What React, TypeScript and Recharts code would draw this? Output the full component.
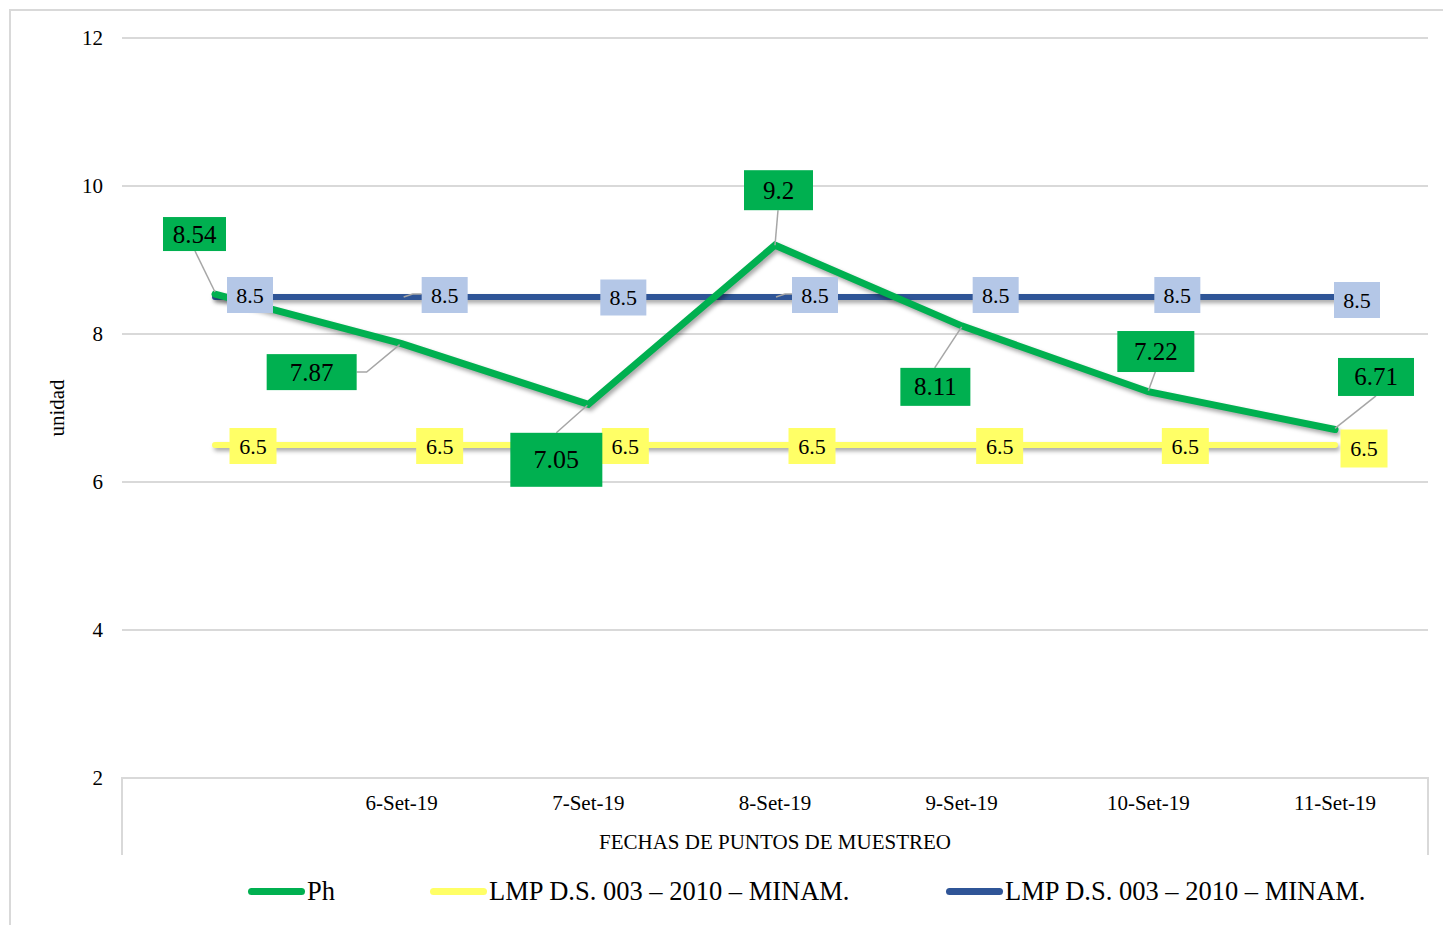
import React from "react";
import { LineChart, Line, XAxis, YAxis, CartesianGrid, LabelList } from "recharts";

const categories = ["", "6-Set-19", "7-Set-19", "8-Set-19", "9-Set-19", "10-Set-19", "11-Set-19"];
const phValues = [8.54, 7.87, 7.05, 9.2, 8.11, 7.22, 6.71];
const lmpMin = [6.5, 6.5, 6.5, 6.5, 6.5, 6.5, 6.5];
const lmpMax = [8.5, 8.5, 8.5, 8.5, 8.5, 8.5, 8.5];
const yTicks = [2, 4, 6, 8, 10, 12];

const seriesNames = {
  ph: "Ph",
  min: "LMP D.S. 003 \u2013 2010 \u2013 MINAM.",
  max: "LMP D.S. 003 \u2013 2010 \u2013 MINAM.",
};

const data = categories.map((c, i) => ({
  cat: c,
  ph: phValues[i],
  min: lmpMin[i],
  max: lmpMax[i],
}));

// Layout of labels (relative to the data point): box centre offset, box size, leader path
type LabelLayout = { dx: number; dy: number; w: number; h: number; fs: number; leader?: [number, number][] };

const phLabelLayout: LabelLayout[] = [
  { dx: -20.5, dy: -60, w: 63, h: 34, fs: 25, leader: [[0, -2], [-20, -43]] },
  { dx: -90, dy: 28.5, w: 90, h: 36, fs: 25, leader: [[-2, 1], [-35, 28.5], [-45, 28.5]] },
  { dx: -32, dy: 55.5, w: 92, h: 54, fs: 26, leader: [[-1, 1], [-32, 28.5]] },
  { dx: 3.5, dy: -55, w: 69, h: 40, fs: 25, leader: [[0, 0], [3, -35]] },
  { dx: -26.3, dy: 61, w: 70, h: 38, fs: 25, leader: [[0, 1], [-27, 42]] },
  { dx: 7.5, dy: -40.2, w: 77, h: 41, fs: 25, leader: [[0, -1], [7, -20]] },
  { dx: 41, dy: -52.5, w: 76, h: 38, fs: 25, leader: [[0, -1], [41, -33.5]] },
];

const maxLabelLayout: LabelLayout[] = [
  { dx: 35, dy: -2, w: 46, h: 36, fs: 22 },
  { dx: 43, dy: -2, w: 46, h: 36, fs: 22, leader: [[2, 0], [11, -3], [20, -3]] },
  { dx: 35, dy: 0.5, w: 46, h: 36, fs: 22 },
  { dx: 40, dy: -2, w: 46, h: 36, fs: 22, leader: [[1, 0], [10, -3], [17, -3]] },
  { dx: 34, dy: -2, w: 46, h: 36, fs: 22 },
  { dx: 29, dy: -2, w: 46, h: 36, fs: 22 },
  { dx: 22, dy: 3, w: 46, h: 36, fs: 22 },
];

const minLabelLayout: LabelLayout[] = [
  { dx: 38, dy: 1, w: 47, h: 36, fs: 22 },
  { dx: 38, dy: 1, w: 47, h: 36, fs: 22 },
  { dx: 37, dy: 1, w: 47, h: 36, fs: 22 },
  { dx: 37, dy: 1, w: 47, h: 36, fs: 22 },
  { dx: 38, dy: 1, w: 47, h: 36, fs: 22 },
  { dx: 37, dy: 1, w: 47, h: 36, fs: 22 },
  { dx: 29, dy: 3.5, w: 47, h: 38, fs: 22 },
];

const GREEN = "#00B050";
const YELLOW = "#FFFF66";
const BLUE = "#2F5597";
const BLUE_LABEL = "#B4C7E7";
const GRID = "#D9D9D9";
const FONT = "'Liberation Serif', 'Times New Roman', serif";

function makeLabel(layout: LabelLayout[], fill: string) {
  return (props: any) => {
    const { x, y, value, index } = props;
    const l = layout[index];
    if (!l || x == null || y == null) return null;
    const cx = x + l.dx;
    const cy = y + l.dy;
    return (
      <g key={`lbl-${index}`}>
        {l.leader && (
          <polyline
            points={l.leader.map(([a, b]) => `${x + a},${y + b}`).join(" ")}
            fill="none"
            stroke="#A6A6A6"
            strokeWidth={1.5}
          />
        )}
        <rect x={cx - l.w / 2} y={cy - l.h / 2} width={l.w} height={l.h} fill={fill} />
        <text
          x={cx}
          y={cy}
          textAnchor="middle"
          dominantBaseline="central"
          fontFamily={FONT}
          fontSize={l.fs}
          fill="#000"
        >
          {value}
        </text>
      </g>
    );
  };
}

const legendItems = [
  { name: seriesNames.ph, color: GREEN, left: 248 },
  { name: seriesNames.min, color: YELLOW, left: 430 },
  { name: seriesNames.max, color: BLUE, left: 946 },
];

export default function App() {
  return (
    <div
      style={{
        position: "absolute",
        left: 0,
        top: 0,
        width: 1443,
        height: 925,
        overflow: "hidden",
        background: "#fff",
        fontFamily: FONT,
      }}
    >
      <style>{`.shadowed .recharts-curve { filter: drop-shadow(2px 3px 2px rgba(0,0,0,0.35)); }`}</style>
      <div
        style={{
          position: "absolute",
          left: 9,
          top: 9,
          width: 1500,
          height: 1000,
          border: `2px solid ${GRID}`,
          boxSizing: "border-box",
        }}
      />
      <div style={{ position: "absolute", left: 0, top: 0 }}>
        <LineChart width={1443} height={925} data={data} margin={{ top: 38, right: 15, left: 10, bottom: 70 }}>
          <CartesianGrid vertical={false} stroke={GRID} strokeWidth={2} />
          <XAxis
            dataKey="cat"
            height={77}
            padding={{ left: 93, right: 93 }}
            axisLine={{ stroke: GRID, strokeWidth: 2 }}
            tickLine={false}
            tickSize={0}
            tickMargin={17}
            interval={0}
            tick={{ fontFamily: FONT, fontSize: 21, fill: "#000" }}
          />
          <YAxis
            domain={[2, 12]}
            ticks={yTicks}
            width={112}
            axisLine={false}
            tickLine={false}
            tickSize={0}
            tickMargin={19}
            interval={0}
            tick={{ fontFamily: FONT, fontSize: 21, fill: "#000" }}
          />
          <Line
            className="shadowed"
            dataKey="min"
            stroke={YELLOW}
            strokeWidth={6}
            strokeLinecap="round"
            dot={false}
            activeDot={false}
            isAnimationActive={false}
          />
          <Line
            className="shadowed"
            dataKey="max"
            stroke={BLUE}
            strokeWidth={6}
            strokeLinecap="round"
            dot={false}
            activeDot={false}
            isAnimationActive={false}
          />
          <Line
            className="shadowed"
            dataKey="ph"
            stroke={GREEN}
            strokeWidth={7}
            strokeLinecap="round"
            strokeLinejoin="miter"
            dot={false}
            activeDot={false}
            isAnimationActive={false}
          />
          <Line dataKey="min" stroke="none" dot={false} activeDot={false} legendType="none" isAnimationActive={false}>
            <LabelList dataKey="min" content={makeLabel(minLabelLayout, YELLOW)} />
          </Line>
          <Line dataKey="max" stroke="none" dot={false} activeDot={false} legendType="none" isAnimationActive={false}>
            <LabelList dataKey="max" content={makeLabel(maxLabelLayout, BLUE_LABEL)} />
          </Line>
          <Line dataKey="ph" stroke="none" dot={false} activeDot={false} legendType="none" isAnimationActive={false}>
            <LabelList dataKey="ph" content={makeLabel(phLabelLayout, GREEN)} />
          </Line>
        </LineChart>
      </div>
      {/* category axis frame sides */}
      <div style={{ position: "absolute", left: 121, top: 777, width: 2, height: 78, background: GRID }} />
      <div style={{ position: "absolute", left: 1427, top: 777, width: 2, height: 78, background: GRID }} />
      {/* axis titles */}
      <div
        style={{
          position: "absolute",
          left: 122,
          width: 1306,
          top: 829,
          textAlign: "center",
          fontSize: 21,
          lineHeight: "26px",
          color: "#000",
        }}
      >
        FECHAS DE PUNTOS DE MUESTREO
      </div>
      <div
        style={{
          position: "absolute",
          left: 57,
          top: 408,
          transform: "translate(-50%, -50%) rotate(-90deg)",
          fontSize: 21,
          lineHeight: "26px",
          color: "#000",
          whiteSpace: "nowrap",
        }}
      >
        unidad
      </div>
      {/* legend */}
      {legendItems.map((it, i) => (
        <div
          key={i}
          style={{ position: "absolute", left: it.left, top: 875, height: 32, display: "flex", alignItems: "center" }}
        >
          <div style={{ width: 57, height: 7, borderRadius: 4, background: it.color }} />
          <span style={{ fontSize: 26.5, marginLeft: 2, color: "#000", whiteSpace: "nowrap" }}>{it.name}</span>
        </div>
      ))}
    </div>
  );
}
